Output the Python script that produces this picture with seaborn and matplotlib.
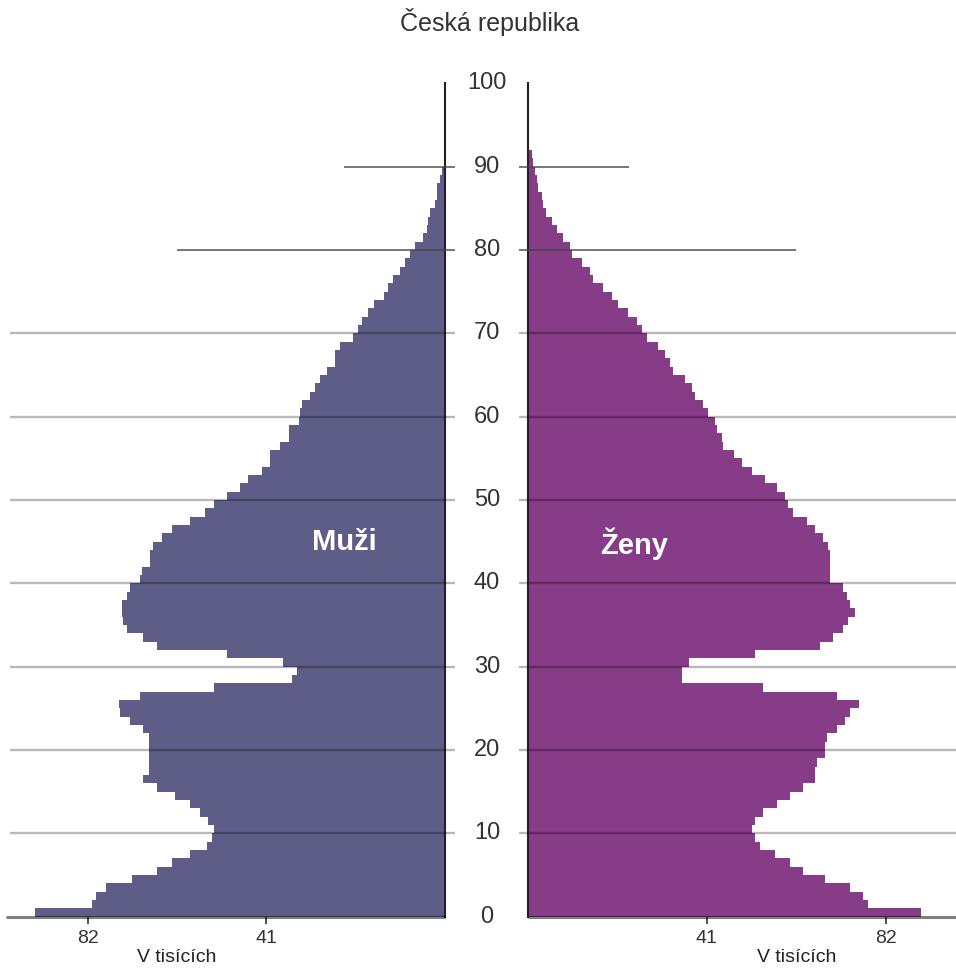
import numpy as np
import pandas as pd
import matplotlib
matplotlib.use("Agg")
import matplotlib.pyplot as plt
import seaborn as sns
from matplotlib.transforms import blended_transform_factory

# ---------------- data (thousands of persons, by single year of age) ----------------
ages_muzi = list(range(0, 90))
muzi = [94.0, 81.0, 80.0, 77.7, 71.9, 66.1, 62.7, 58.5, 54.7, 53.5,
        53.1, 54.3, 56.2, 58.5, 61.9, 66.1, 69.2, 68.0, 68.0, 68.0,
        68.0, 68.0, 69.2, 72.2, 74.5, 74.9, 70.0, 53.1, 35.2, 34.0,
        37.1, 50.1, 66.1, 69.2, 73.0, 73.8, 74.2, 74.2, 73.0, 72.2,
        70.0, 69.6, 67.7, 67.7, 66.9, 65.0, 62.7, 58.5, 55.0, 53.1,
        50.1, 47.0, 45.1, 42.0, 40.1, 40.1, 37.8, 35.9, 35.9, 33.6,
        33.3, 32.9, 31.0, 29.8, 28.7, 27.1, 25.2, 25.2, 24.1, 21.0,
        19.9, 19.1, 17.6, 16.4, 14.1, 13.0, 11.9, 10.3, 9.2, 8.0,
        6.9, 5.0, 4.2, 3.8, 3.4, 2.3, 1.9, 1.8, 1.1, 0.8]

ages_zeny = list(range(0, 92))
zeny = [90.0, 77.9, 76.8, 73.8, 68.0, 63.1, 60.0, 56.6, 53.2, 52.0,
        51.3, 52.0, 53.9, 57.0, 60.0, 63.1, 65.7, 65.7, 66.1, 68.0,
        68.0, 68.4, 70.7, 72.6, 73.8, 75.7, 70.7, 53.9, 35.2, 35.2,
        36.8, 52.0, 66.9, 69.9, 72.2, 73.4, 74.9, 73.8, 73.0, 72.2,
        69.2, 69.2, 69.2, 69.2, 68.8, 67.6, 65.7, 63.8, 60.8, 59.6,
        58.9, 57.0, 54.3, 51.3, 49.0, 47.1, 44.8, 44.4, 43.2, 42.9,
        41.3, 40.2, 38.3, 37.5, 36.0, 33.3, 32.6, 31.4, 29.9, 27.2,
        26.1, 24.9, 23.0, 20.7, 19.2, 17.3, 15.0, 14.3, 12.4, 10.1,
        9.7, 8.1, 6.6, 5.5, 4.3, 3.6, 3.2, 2.4, 2.1, 1.7,
        1.3, 1.0]

grid_ages = [10, 20, 30, 40, 50, 60, 70]
short_line_ages = [80, 90]
short_line_lengths = [61.5, 23.2]
age_labels = [0, 10, 20, 30, 40, 50, 60, 70, 80, 90, 100]
x_ticks_left = [82, 41]
x_ticks_right = [41, 82]
title = "Česká republika"
label_muzi = "Muži"
label_zeny = "Ženy"
unit_label = "V tisících"

# ---------------- style ----------------
sns.set_style("white")
plt.rcParams["font.family"] = ["Liberation Sans", "DejaVu Sans"]

COL_M = "#5d5d87"
COL_Z = "#873c87"
TXT = "#333333"

W, H = 956, 969
fig = plt.figure(figsize=(W / 100, H / 100), dpi=100)
fig.patch.set_facecolor("white")

y0 = (H - 916.6) / H
hgt = 833.3 / H
ax_l = fig.add_axes([10 / W, y0, 435 / W, hgt])
ax_r = fig.add_axes([527.7 / W, y0, 428.3 / W, hgt])

df_m = pd.DataFrame({"age": np.array(ages_muzi) + 0.5, "val": muzi})
df_z = pd.DataFrame({"age": np.array(ages_zeny) + 0.5, "val": zeny})

sns.barplot(data=df_m, x="val", y="age", orient="h", native_scale=True,
            width=1, color=COL_M, saturation=1, linewidth=0,
            errorbar=None, ax=ax_l)
sns.barplot(data=df_z, x="val", y="age", orient="h", native_scale=True,
            width=1, color=COL_Z, saturation=1, linewidth=0,
            errorbar=None, ax=ax_r)

XL = 99.8
XR = 98.0
ax_l.set_xlim(XL, 0)
ax_r.set_xlim(0, XR)
for ax in (ax_l, ax_r):
    ax.set_ylim(0, 100)
    ax.set_xlabel("")
    ax.set_ylabel("")
    ax.set_yticks([])
    ax.grid(False)
    ax.set_facecolor("none")
    for s in ax.spines.values():
        s.set_visible(False)

ax_l.spines["right"].set_visible(True)
ax_l.spines["right"].set_color("#222222")
ax_l.spines["right"].set_linewidth(1.5)
ax_r.spines["left"].set_visible(True)
ax_r.spines["left"].set_color("#222222")
ax_r.spines["left"].set_linewidth(1.5)

# horizontal reference lines (drawn over the bars)
for g in grid_ages:
    ax_l.hlines(g, -2.4, XL, colors="black", alpha=0.28, lw=1.7,
                clip_on=False, zorder=3)
    ax_r.hlines(g, -1.9, XR, colors="black", alpha=0.28, lw=1.7,
                clip_on=False, zorder=3)
for g, ln in zip(short_line_ages, short_line_lengths):
    ax_l.hlines(g, -2.4, ln, colors="#444444", alpha=0.85, lw=1.2,
                clip_on=False, zorder=3)
    ax_r.hlines(g, -1.9, ln, colors="#444444", alpha=0.85, lw=1.2,
                clip_on=False, zorder=3)
# baseline
ax_l.hlines(0, 0, XL + 1, colors="black", alpha=0.5, lw=2.2,
            clip_on=False, zorder=3)
ax_r.hlines(0, 0, XR, colors="black", alpha=0.5, lw=2.2,
            clip_on=False, zorder=3)

# x ticks
ax_l.set_xticks(x_ticks_left)
ax_l.set_xticklabels([str(v) for v in x_ticks_left])
ax_r.set_xticks(x_ticks_right)
ax_r.set_xticklabels([str(v) for v in x_ticks_right])
for ax in (ax_l, ax_r):
    ax.tick_params(axis="x", bottom=True, direction="out", length=5,
                   width=1.2, color="#333333", labelsize=14,
                   labelcolor=TXT, pad=5)

# central age labels
tr = blended_transform_factory(fig.transFigure, ax_r.transData)
for a in age_labels:
    fig.text(487 / W, a, str(a), transform=tr, ha="center", va="center",
             fontsize=17, color=TXT)

# texts
fig.text(490 / W, 1 - 22 / H, title, ha="center", va="center",
         fontsize=18, color=TXT)
fig.text(344 / W, 1 - 542 / H, label_muzi, ha="center", va="center",
         fontsize=21, fontweight="bold", color="white")
fig.text(634 / W, 1 - 544 / H, label_zeny, ha="center", va="center",
         fontsize=21, fontweight="bold", color="white")
fig.text(177 / W, 1 - 958 / H, unit_label, ha="center", va="center",
         fontsize=14, color="#222222")
fig.text(797 / W, 1 - 958 / H, unit_label, ha="center", va="center",
         fontsize=14, color="#222222")

fig.savefig("out.png", dpi=100, facecolor="white")
